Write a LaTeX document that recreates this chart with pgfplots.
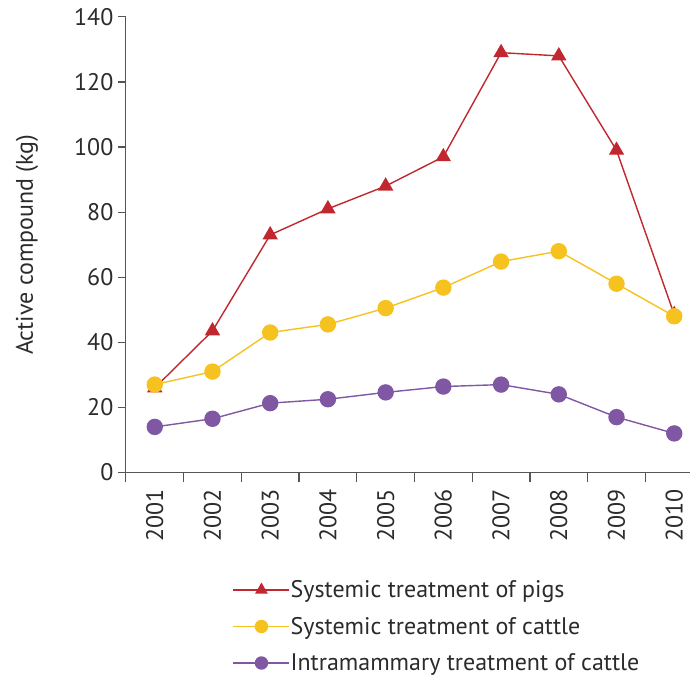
\documentclass[border=0pt]{standalone}
\usepackage{pgfplots}
\pgfplotsset{compat=1.18}
\usepackage{fontspec}
\setmainfont{PT Sans}
\definecolor{cred}{HTML}{C1272F}
\definecolor{cyel}{HTML}{F6C21F}
\definecolor{cpur}{HTML}{7F57A3}
\definecolor{caxis}{HTML}{555555}
\definecolor{ctext}{HTML}{2B2B2B}
\begin{document}
\begin{tikzpicture}
\begin{axis}[
  scale only axis,
  width=565pt, height=456pt,
  xmin=-0.5, xmax=9.28,
  ymin=0, ymax=140,
  axis x line*=bottom, axis y line*=left,
  axis line style={caxis, line width=1.2pt},
  tick style={caxis, line width=1.2pt},
  tick align=outside,
  xtick={0,...,9},
  xticklabels={2001,2002,2003,2004,2005,2006,2007,2008,2009,2010},
  major x tick style={draw=none},
  minor xtick={-0.5,0.5,...,8.5},
  minor tick length=10pt,
  major tick length=8pt,
  ytick={0,20,...,140},
  x tick label style={rotate=90, anchor=east, xshift=-5pt},
  y tick label style={xshift=-1pt},
  tick label style={font=\fontsize{24}{28}\selectfont, text=ctext},
  /pgf/number format/assume math mode=true,
  ylabel={Active compound (kg)},
  ylabel style={at={(axis description cs:-0.175,0.5)}, anchor=center,
    font=\fontsize{24}{28}\selectfont, text=ctext},
  legend style={at={(axis description cs:0.189,-0.236)}, anchor=north west, draw=none,
    font=\fontsize{24}{28}\selectfont, text=ctext, row sep=17pt,
    inner sep=0pt, nodes={inner sep=0.5pt}},
  legend cell align=left,
  legend image code/.code={%
    \draw[#1, mark size=6pt, mark repeat=2, mark phase=2]
      plot coordinates {(0pt,0pt) (28pt,0pt) (56pt,0pt)};},
  clip=false,
]
\path (axis description cs:-0.223,-0.455) rectangle (axis description cs:1,1.037);
\addplot[cred, line width=1.4pt, mark=triangle*, mark size=7.5pt, mark options={solid}]
coordinates {(0,26) (1,43.5) (2,73) (3,81) (4,88) (5,97) (6,129) (7,128) (8,99) (9,48.5)};
\addlegendentry{Systemic treatment of pigs}
\addplot[cyel, line width=1.4pt, mark=*, mark size=7.5pt]
coordinates {(0,27) (1,31) (2,43) (3,45.5) (4,50.5) (5,56.8) (6,64.8) (7,68) (8,58) (9,48)};
\addlegendentry{Systemic treatment of cattle}
\addplot[cpur, line width=1.4pt, mark=*, mark size=7.5pt]
coordinates {(0,14) (1,16.5) (2,21.3) (3,22.5) (4,24.6) (5,26.4) (6,27) (7,24) (8,17) (9,12)};
\addlegendentry{Intramammary treatment of cattle}
\end{axis}
\end{tikzpicture}
\end{document}
